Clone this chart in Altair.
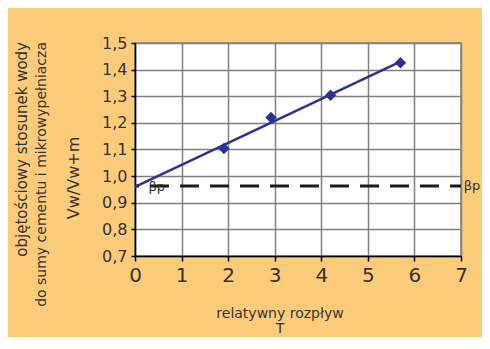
import altair as alt
import pandas as pd

# measured points
spread_T = [1.91, 2.92, 4.20, 5.70]
ratio_V = [1.104, 1.22, 1.304, 1.426]

# beta_p reference line
beta_x = [0, 7]
beta_y = [0.963, 0.963]
beta_label_x = [0.29, 7.06]
beta_label_y = [0.958, 0.963]
beta_label_text = ["βp", "βp"]

x_ticks = [0, 1, 2, 3, 4, 5, 6, 7]
y_ticks = [0.7, 0.8, 0.9, 1.0, 1.1, 1.2, 1.3, 1.4, 1.5]

FONT = "DejaVu Sans"
NAVY = "#2E3192"
ORANGE = "#FDCC7B"
TXT = "#333333"

pts = pd.DataFrame({"T": spread_T, "V": ratio_V})
beta = pd.DataFrame({"T": beta_x, "V": beta_y})
beta_lbl = pd.DataFrame({"T": beta_label_x, "V": beta_label_y, "t": beta_label_text})
one = pd.DataFrame({"a": [0]})

xs = alt.Scale(domain=[0, 7], nice=False, zero=False)
ys = alt.Scale(domain=[0.7, 1.5], nice=False, zero=False)

x_enc = alt.X("T:Q", scale=xs, axis=alt.Axis(
    values=x_ticks, tickCount=len(x_ticks), title=None, format="d",
    labelFontSize=20, labelFont=FONT, labelOverlap=False,
    labelColor=TXT, tickSize=5, tickColor="black", domainColor="black",
    domainWidth=1.5, tickWidth=1.5, labelPadding=4, gridColor="#808080",
    gridWidth=1.5, labelFlush=False))
y_enc = alt.Y("V:Q", scale=ys, axis=alt.Axis(
    values=y_ticks, tickCount=len(y_ticks), title=None, labelFontSize=16,
    labelFont=FONT, labelOverlap=False,
    labelExpr="replace(format(datum.value, '.1f'), '.', ',')",
    labelColor=TXT, tickSize=4, tickColor="black", domainColor="black",
    domainWidth=1.5, tickWidth=1.5, labelPadding=4, gridColor="#808080",
    gridWidth=1.5, labelFlush=False))

base_axes = alt.Chart(pts).mark_point(opacity=0).encode(x=x_enc, y=y_enc)

dashed = alt.Chart(beta).mark_line(
    color="#1a1a1a", strokeWidth=3, strokeDash=[19, 11], strokeDashOffset=15
).encode(x=alt.X("T:Q", scale=xs), y=alt.Y("V:Q", scale=ys))

trend = alt.Chart(pts).transform_regression(
    "T", "V", extent=[0, 5.7]
).mark_line(color=NAVY, strokeWidth=2.5).encode(
    x=alt.X("T:Q", scale=xs), y=alt.Y("V:Q", scale=ys))

markers = alt.Chart(pts).mark_point(
    shape="diamond", filled=True, color=NAVY, size=130, opacity=1
).encode(x=alt.X("T:Q", scale=xs), y=alt.Y("V:Q", scale=ys))

blabels = alt.Chart(beta_lbl).mark_text(
    align="left", baseline="middle", font=FONT, fontSize=13, color=TXT
).encode(x=alt.X("T:Q", scale=xs), y=alt.Y("V:Q", scale=ys), text="t:N")

def label(text, x, y, size, angle=0, align="center", baseline="alphabetic"):
    return alt.Chart(one).mark_text(
        text=text, font=FONT, fontSize=size, color=TXT, angle=angle,
        align=align, baseline=baseline
    ).encode(x=alt.value(x), y=alt.value(y))

titles = [
    label("objętościowy stosunek wody", -113, -1, 15, 270, "right", "middle"),
    label("do sumy cementu i mikrowypełniacza", -93, -1, 14, 270, "right", "middle"),
    label("Vw/Vw+m", -61, 135, 16, 270, "center", "middle"),
    label("relatywny rozpływ", 145, 275, 14),
    label("T", 145, 290, 14),
]

chart = alt.layer(base_axes, dashed, trend, markers, blabels, *titles).properties(
    width=326, height=213,
    background=ORANGE,
    padding={"left": 127, "top": 35, "right": 21, "bottom": 81},
    autosize=alt.AutoSizeParams(type="none"),
).configure_view(fill="white", stroke="#808080", strokeWidth=1.5)

chart.save("out.html", embed_options={"renderer": "svg", "actions": False})
